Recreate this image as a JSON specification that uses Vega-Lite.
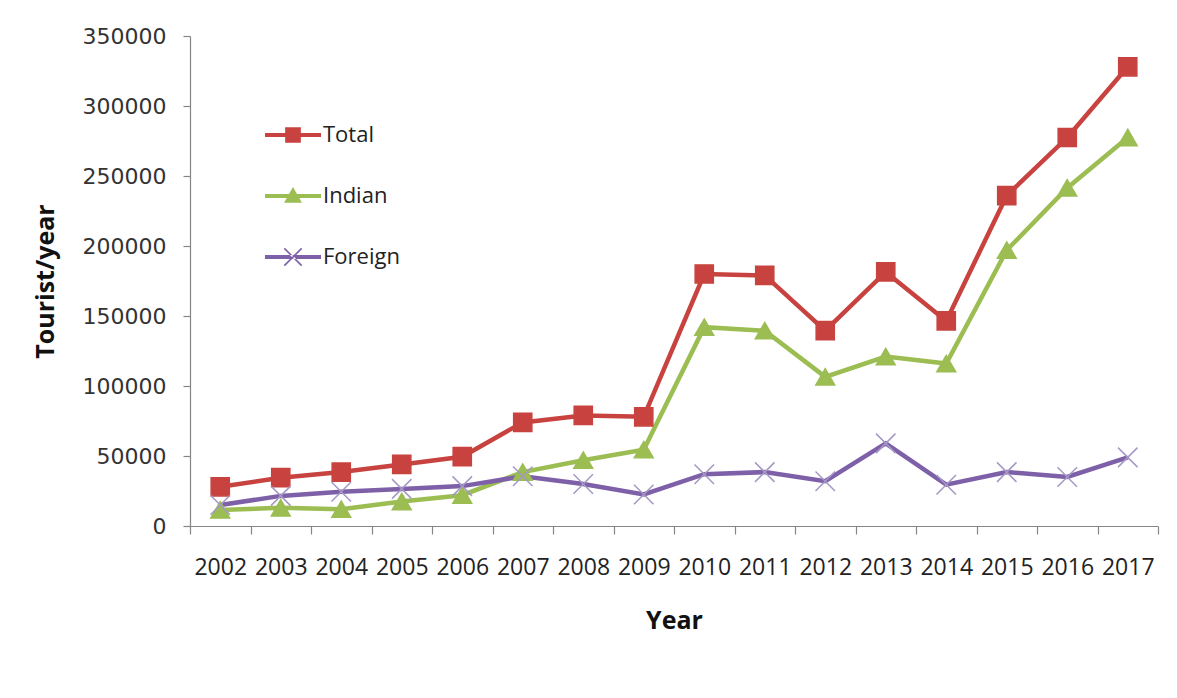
{
  "$schema": "https://vega.github.io/schema/vega-lite/v6.json",
  "width": 968,
  "height": 490,
  "autosize": "none",
  "padding": {"left": 190, "top": 36, "right": 19, "bottom": 172},
  "background": "white",
  "config": {
    "view": {"stroke": null},
    "axis": {"grid": false, "domainColor": "#868686", "tickColor": "#868686", "domainWidth": 1.2, "tickWidth": 1.2}
  },
  "data": {
    "values": [
      {"year": "2002", "series": "Total", "value": 28000},
      {"year": "2003", "series": "Total", "value": 34500},
      {"year": "2004", "series": "Total", "value": 38500},
      {"year": "2005", "series": "Total", "value": 44000},
      {"year": "2006", "series": "Total", "value": 49500},
      {"year": "2007", "series": "Total", "value": 74000},
      {"year": "2008", "series": "Total", "value": 79000},
      {"year": "2009", "series": "Total", "value": 78000},
      {"year": "2010", "series": "Total", "value": 180000},
      {"year": "2011", "series": "Total", "value": 179000},
      {"year": "2012", "series": "Total", "value": 139500},
      {"year": "2013", "series": "Total", "value": 181500},
      {"year": "2014", "series": "Total", "value": 146500},
      {"year": "2015", "series": "Total", "value": 236000},
      {"year": "2016", "series": "Total", "value": 277500},
      {"year": "2017", "series": "Total", "value": 328000},
      {"year": "2002", "series": "Indian", "value": 11500},
      {"year": "2003", "series": "Indian", "value": 13000},
      {"year": "2004", "series": "Indian", "value": 12000},
      {"year": "2005", "series": "Indian", "value": 17500},
      {"year": "2006", "series": "Indian", "value": 22000},
      {"year": "2007", "series": "Indian", "value": 38500},
      {"year": "2008", "series": "Indian", "value": 47000},
      {"year": "2009", "series": "Indian", "value": 54500},
      {"year": "2010", "series": "Indian", "value": 142000},
      {"year": "2011", "series": "Indian", "value": 139500},
      {"year": "2012", "series": "Indian", "value": 106500},
      {"year": "2013", "series": "Indian", "value": 121000},
      {"year": "2014", "series": "Indian", "value": 116000},
      {"year": "2015", "series": "Indian", "value": 197000},
      {"year": "2016", "series": "Indian", "value": 241500},
      {"year": "2017", "series": "Indian", "value": 277500},
      {"year": "2002", "series": "Foreign", "value": 15000},
      {"year": "2003", "series": "Foreign", "value": 21500},
      {"year": "2004", "series": "Foreign", "value": 24500},
      {"year": "2005", "series": "Foreign", "value": 26500},
      {"year": "2006", "series": "Foreign", "value": 28500},
      {"year": "2007", "series": "Foreign", "value": 35500},
      {"year": "2008", "series": "Foreign", "value": 30000},
      {"year": "2009", "series": "Foreign", "value": 22500},
      {"year": "2010", "series": "Foreign", "value": 37000},
      {"year": "2011", "series": "Foreign", "value": 38500},
      {"year": "2012", "series": "Foreign", "value": 32000},
      {"year": "2013", "series": "Foreign", "value": 59000},
      {"year": "2014", "series": "Foreign", "value": 29500},
      {"year": "2015", "series": "Foreign", "value": 38500},
      {"year": "2016", "series": "Foreign", "value": 35000},
      {"year": "2017", "series": "Foreign", "value": 49000}
    ]
  },
  "encoding": {
    "x": {
      "field": "year", "type": "ordinal",
      "scale": {"type": "band", "paddingInner": 0, "paddingOuter": 0},
      "axis": {
        "title": "Year", "labelAngle": 0, "tickBand": "extent", "tickSize": 8,
        "labelFont": "Open Sans", "labelFontSize": 23, "labelColor": "#222222", "labelPadding": 22,
        "titleFont": "Open Sans", "titleFontSize": 25, "titleFontWeight": "bold", "titleColor": "#111111", "titlePadding": 29
      }
    },
    "y": {
      "field": "value", "type": "quantitative",
      "scale": {"domain": [0, 350000], "nice": false, "zero": true},
      "axis": {
        "title": "Tourist/year", "values": [0, 50000, 100000, 150000, 200000, 250000, 300000, 350000],
        "format": "d", "tickSize": 7, "labelPadding": 17,
        "labelFont": "DejaVu Sans", "labelFontSize": 22, "labelColor": "#333333",
        "titleFont": "Open Sans", "titleFontSize": 25, "titleFontWeight": "bold", "titleColor": "#111111", "titlePadding": 24
      }
    }
  },
  "layer": [
    {
      "mark": {"type": "line", "strokeWidth": 4.5},
      "encoding": {
        "color": {
          "field": "series", "type": "nominal", "legend": null,
          "scale": {"domain": ["Total", "Indian", "Foreign"], "range": ["#C8433F", "#9BBD52", "#7D60A8"]}
        }
      }
    },
    {
      "mark": {"type": "point", "filled": true, "opacity": 1, "strokeWidth": 1.5},
      "encoding": {
        "fill": {
          "field": "series", "type": "nominal", "legend": null,
          "scale": {"domain": ["Total", "Indian", "Foreign"], "range": ["#C8433F", "#9BBD52", "#A598C6"]}
        },
        "stroke": {
          "field": "series", "type": "nominal", "legend": null,
          "scale": {"domain": ["Total", "Indian", "Foreign"], "range": ["#C8433F", "#9BBD52", "#A598C6"]}
        },
        "shape": {
          "field": "series", "type": "nominal", "legend": null,
          "scale": {"domain": ["Total", "Indian", "Foreign"], "range": ["square", "triangle-up", "M-1,-1L1,1M-1,1L1,-1"]}
        },
        "size": {
          "field": "series", "type": "nominal", "legend": null,
          "scale": {"domain": ["Total", "Indian", "Foreign"], "range": [330, 380, 300]}
        }
      }
    },
    {
      "mark": {"type": "point", "filled": true, "opacity": 0, "strokeWidth": 0, "size": 3136},
      "encoding": {
        "fill": {
          "field": "series", "type": "nominal",
          "scale": {"domain": ["Total", "Indian", "Foreign"], "range": ["#C8433F", "#9BBD52", "#7D60A8"]},
          "legend": {
            "title": null, "orient": "none", "legendX": 75, "legendY": 71,
            "symbolSize": 3136, "symbolOpacity": 1, "symbolStrokeWidth": 0, "rowPadding": 22, "labelOffset": 2, "padding": 0,
            "labelFont": "Open Sans", "labelFontSize": 22, "labelColor": "#222222", "labelLimit": 200
          }
        },
        "shape": {
          "field": "series", "type": "nominal",
          "scale": {"domain": ["Total", "Indian", "Foreign"], "range": [
            "M-1,-0.07H1V0.07H-1Z M-0.28,-0.28H0.28V0.28H-0.28Z",
            "M-1,-0.07H1V0.07H-1Z M-0.32,0.24L0,-0.32L0.32,0.24Z",
            "M-1,-0.07H1V0.07H-1Z M-0.33,-0.29L0.29,0.33L0.33,0.29L-0.29,-0.33Z M-0.33,0.29L0.29,-0.33L0.33,-0.29L-0.29,0.33Z"
          ]},
          "legend": {
            "title": null, "orient": "none", "legendX": 75, "legendY": 71,
            "symbolSize": 3136, "symbolOpacity": 1, "symbolStrokeWidth": 0, "rowPadding": 22, "labelOffset": 2, "padding": 0,
            "labelFont": "Open Sans", "labelFontSize": 22, "labelColor": "#222222", "labelLimit": 200
          }
        }
      }
    }
  ],
  "resolve": {"scale": {"color": "independent", "fill": "independent", "stroke": "independent", "shape": "independent", "size": "independent"}}
}
